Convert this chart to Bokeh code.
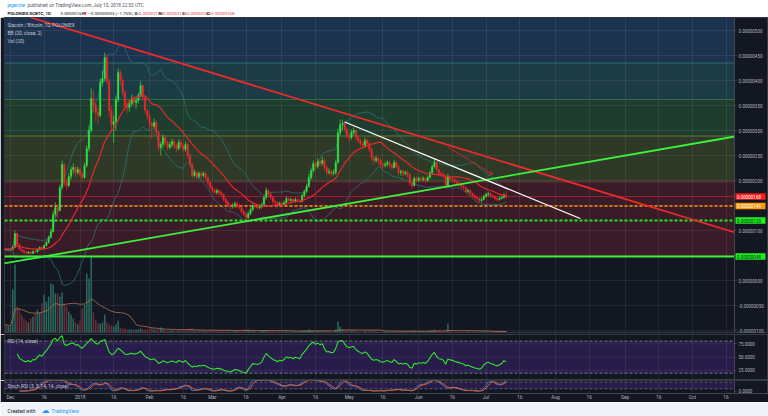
import numpy as np
import pandas as pd
from bokeh.plotting import figure
from bokeh.layouts import column
from bokeh.models import (Range1d, LinearAxis, FixedTicker, PrintfTickFormatter,
                          CustomJSTickFormatter, BoxAnnotation, Label, Arrow,
                          OpenHead, ColumnDataSource, Grid)
from bokeh.embed import file_html
from bokeh.resources import INLINE
from bokeh.core.properties import value

# ---------------- data (prices in satoshi, 1e-8 BTC) ----------------
start_date = "2017-11-28"
first_open = 64
close = [63, 61, 62,
         62, 66, 94, 72, 63, 60, 56, 55, 57, 54, 58, 57, 62, 66, 64, 70, 76, 86, 98, 132, 146, 140, 186, 232, 196, 190, 208, 222, 226, 216, 222,
         212, 206, 230, 264, 300, 364, 350, 336, 330, 396, 404, 446, 398, 340, 312, 318, 362, 416, 400, 376, 350, 346, 354, 364, 356, 360, 370, 390, 366, 340, 330,
         314, 308, 316, 296, 266, 272, 286, 276, 266, 272, 278, 270, 264, 276, 270, 262, 272, 250, 232, 210, 216, 208, 214, 210, 214, 206, 196, 186,
         180, 176, 180, 176, 172, 162, 156, 150, 148, 150, 154, 150, 146, 138, 132, 126, 134, 142, 150, 148, 146, 148, 152, 166, 180, 172, 166, 158, 156, 150, 154,
         152, 156, 164, 160, 162, 158, 162, 160, 158, 170, 178, 188, 206, 220, 234, 228, 238, 234, 240, 226, 216, 218, 214, 216, 236, 296, 312, 314, 302, 290,
         286, 296, 300, 286, 280, 274, 270, 280, 274, 262, 246, 240, 244, 240, 232, 230, 232, 236, 230, 226, 236, 228, 216, 218, 214, 216, 212, 196, 190, 204, 200,
         204, 202, 204, 200, 206, 216, 228, 236, 222, 214, 212, 208, 190, 208, 204, 202, 198, 194, 192, 188, 186, 178, 180, 174, 170, 166, 164, 160, 162, 168,
         172, 174, 170, 168, 164, 162, 164, 166, 171, 168]
high = [66, 65, 64,
        64, 70, 100, 96, 74, 64, 61, 58, 59, 58, 60, 60, 64, 68, 68, 72, 80, 90, 104, 140, 156, 152, 192, 240, 234, 204, 214, 228, 234, 228, 228,
        226, 216, 236, 270, 310, 384, 380, 356, 346, 404, 420, 456, 452, 404, 350, 330, 370, 424, 422, 406, 380, 358, 362, 372, 370, 368, 376, 398, 392, 370, 344,
        334, 318, 324, 320, 300, 278, 292, 290, 280, 278, 284, 282, 274, 282, 282, 274, 278, 276, 254, 236, 222, 220, 218, 218, 218, 216, 208, 198,
        190, 184, 184, 182, 180, 174, 166, 160, 154, 154, 158, 158, 154, 150, 142, 136, 138, 146, 156, 154, 152, 152, 156, 170, 186, 182, 176, 168, 162, 158, 158,
        158, 160, 168, 166, 166, 164, 166, 164, 164, 174, 182, 194, 214, 226, 240, 238, 244, 242, 248, 244, 230, 224, 222, 222, 242, 304, 322, 322, 318, 306,
        294, 302, 306, 302, 290, 284, 278, 286, 284, 278, 266, 250, 250, 248, 244, 236, 238, 240, 240, 234, 242, 240, 232, 222, 222, 220, 220, 214, 200, 208, 208,
        208, 208, 208, 206, 210, 220, 232, 244, 238, 224, 218, 216, 210, 214, 210, 206, 204, 200, 198, 196, 192, 188, 184, 182, 176, 172, 168, 166, 166, 172,
        176, 178, 176, 172, 170, 166, 168, 170, 175, 179]
low = [61, 59, 60,
       60, 61, 65, 70, 61, 57, 54, 52, 53, 52, 53, 55, 56, 60, 62, 63, 68, 74, 84, 96, 126, 124, 138, 182, 188, 180, 186, 202, 214, 206, 212,
       208, 198, 204, 226, 258, 296, 336, 318, 312, 326, 388, 398, 392, 326, 296, 276, 300, 356, 390, 368, 340, 334, 338, 348, 348, 344, 354, 366, 360, 334, 322,
       300, 284, 302, 290, 258, 250, 266, 270, 260, 262, 266, 264, 258, 260, 264, 256, 258, 244, 226, 204, 206, 202, 204, 204, 206, 200, 190, 182,
       176, 172, 172, 170, 168, 158, 150, 146, 140, 144, 146, 146, 142, 134, 128, 121, 122, 130, 138, 144, 142, 142, 144, 150, 162, 166, 162, 154, 152, 146, 148,
       148, 150, 154, 156, 156, 154, 156, 156, 154, 156, 166, 174, 186, 202, 216, 222, 224, 228, 230, 220, 210, 212, 208, 210, 212, 234, 290, 300, 296, 284,
       278, 282, 290, 280, 274, 268, 264, 266, 268, 256, 240, 232, 236, 232, 226, 224, 226, 228, 226, 222, 224, 224, 210, 210, 208, 210, 206, 190, 184, 188, 196,
       198, 198, 198, 196, 198, 204, 212, 224, 218, 208, 208, 204, 184, 188, 198, 198, 194, 190, 188, 184, 182, 174, 174, 168, 166, 162, 160, 156, 156, 160,
       166, 168, 166, 164, 160, 158, 160, 162, 164, 163]
volume = [8, 7, 6,
          6, 43, 68, 26, 24, 18, 14, 12, 10, 14, 16, 19, 23, 20, 29, 38, 31, 36, 49, 48, 39, 39, 36, 40, 29, 26, 21, 18, 14, 10, 8,
          12, 24, 28, 59, 54, 76, 20, 12, 9, 9, 10, 18, 10, 8, 7, 6, 8, 12, 5, 4, 4, 3, 3, 3, 3, 3, 3, 4, 3, 3, 3,
          4, 5, 3, 3, 4, 5, 3, 2, 2, 2, 2, 2, 2, 2, 2, 2, 2, 3, 4, 4, 2, 2, 2, 2, 2, 2, 2, 3,
          2, 2, 1, 2, 2, 2, 2, 2, 2, 1, 2, 2, 2, 2, 3, 3, 3, 2, 2, 2, 1, 1, 2, 2, 2, 2, 2, 2, 1, 2, 1,
          1, 1, 2, 1, 1, 1, 1, 1, 1, 2, 2, 2, 3, 2, 2, 2, 2, 1, 2, 2, 2, 1, 1, 1, 3, 11, 6, 3, 2, 2,
          2, 2, 2, 2, 1, 1, 1, 2, 1, 2, 2, 2, 1, 1, 1, 1, 1, 1, 1, 1, 1, 1, 2, 1, 1, 1, 1, 2, 2, 2, 1,
          1, 1, 1, 1, 1, 2, 2, 3, 2, 2, 1, 1, 3, 9, 2, 1, 1, 1, 1, 1, 1, 1, 1, 1, 1, 1, 1, 1, 1, 1,
          1, 1, 1, 1, 1, 1, 1, 1, 1, 1]

price_ticks = [-100, -50, 0, 50, 100, 150, 200, 250, 300, 350, 400, 450, 500]
date_ticks = ["2017-12-01", "2017-12-16", "2018-01-01", "2018-01-16", "2018-02-01", "2018-02-16",
              "2018-03-01", "2018-03-16", "2018-04-01", "2018-04-16", "2018-05-01", "2018-05-16",
              "2018-06-01", "2018-06-16", "2018-07-01", "2018-07-16", "2018-08-01", "2018-08-16",
              "2018-09-01", "2018-09-16", "2018-10-01", "2018-10-16"]
view_start, view_end = "2017-11-28 08:00", "2018-10-19 18:40"
fib_levels = [48, 197, 289, 362, 435]
fib_fill = ["#3a1c28", "#2e3a27", "#1f3d2e", "#1c3c45", "#1c3350"]
fib_line = ["#3aa83a", "#6e2a33", "#6b7530", "#2e6e40", "#2a6e6e"]
green_solid_level = 48
green_dash_level = 120
orange_level = 149
last_price = 168
red_trend = (["2017-12-10", "2018-10-20"], [526, 96])
green_trend = (["2017-11-28", "2018-10-20"], [34, 288])
white_trend = (["2018-04-29", "2018-08-12"], [317, 124])
red_arrow = (["2018-06-14", "2018-07-04"], [267, 212])
rsi_ticks = [25, 50, 75]
rsi_band = [20, 80]
stoch_band = [20, 80]

SAT = 1e-8
BG = "#131722"
FONT = "Roboto"
AX_TXT = "#b2b5be"
PLOT_W = 730      # width of the chart area (px)
SCALE_W = 34      # width of the price-scale strip (px)

# ---------------- derived series ----------------
dates = pd.date_range(start_date, periods=len(close), freq="D")
c = np.array(close, float)
o = np.concatenate([[first_open], c[:-1]])
h = np.array(high, float)
l = np.array(low, float)
vol = np.array(volume, float)
up = c >= o
CUP, CDN = "#2ee640", "#f0282d"
s = pd.Series(c)
sma = s.rolling(20, min_periods=1).mean()
sd = s.rolling(20, min_periods=1).std(ddof=0)
bb_up = sma + 2 * sd
bb_dn = sma - 2 * sd
dif = s.diff()
ag = dif.clip(lower=0).ewm(alpha=1 / 14, adjust=True, min_periods=6).mean()
al = (-dif.clip(upper=0)).ewm(alpha=1 / 14, adjust=True, min_periods=6).mean()
rsi = 100 - 100 / (1 + ag / al)
rmin = rsi.rolling(14, min_periods=1).min()
rmax = rsi.rolling(14, min_periods=1).max()
stoch = 100 * (rsi - rmin) / (rmax - rmin)
k = stoch.rolling(3, min_periods=1).mean()
dline = k.rolling(3, min_periods=1).mean()
vol_ma = pd.Series(vol).rolling(20, min_periods=1).mean()

src = ColumnDataSource(dict(
    date=dates, o=o * SAT, c=c * SAT, h=h * SAT, l=l * SAT,
    top=np.maximum(o, c) * SAT, bot=np.minimum(o, c) * SAT,
    col=[CUP if u else CDN for u in up],
    vol=vol, vcol=["#2b6a5d" if u else "#6a2c39" for u in up],
    sma=sma * SAT, bbu=bb_up * SAT, bbd=bb_dn * SAT, volma=vol_ma,
    rsi=rsi, k=k, d=dline))


def ms(t):
    return pd.Timestamp(t).value / 1e6


tick_ms = [ms(t) for t in date_ticks]
vs, ve = ms(view_start), ms(view_end)
ms_per_px = (ve - vs) / PLOT_W
full_end = ve + SCALE_W * ms_per_px          # the frame also covers the price-scale strip
xr = Range1d(vs, full_end)
DAY = 86400000.0


def panel(frame_h, yr, below=False, bottom=0):
    p = figure(frame_width=PLOT_W + SCALE_W, frame_height=frame_h, x_range=xr, y_range=yr,
               x_axis_type="datetime", x_axis_location="below" if below else None,
               y_axis_location=None, output_backend="svg", toolbar_location=None,
               min_border_left=4, min_border_right=0, min_border_top=0,
               min_border_bottom=bottom, background_fill_color=BG,
               border_fill_color=BG, outline_line_color="#363a45")
    p.grid.visible = False
    p.add_layout(Grid(dimension=0, ticker=FixedTicker(ticks=tick_ms),
                      grid_line_color="#ffffff", grid_line_alpha=0.07))
    return p


def hgrid(p, ys):
    p.segment(x0=vs, x1=ve, y0=ys, y1=ys, line_color="#ffffff", line_alpha=0.07,
              line_width=1, level="underlay")


def hline(p, y, color, width, dash="solid"):
    p.segment(x0=[vs], x1=[ve], y0=[y], y1=[y], line_color=color, line_width=width,
              line_dash=dash)


def style_axis(ax, fs="4.5px"):
    ax.major_label_text_font_size = fs
    ax.major_label_text_color = AX_TXT
    ax.major_label_text_font = FONT
    ax.axis_line_color = "#434651"
    ax.major_tick_line_color = "#434651"
    ax.major_tick_out = 2
    ax.major_tick_in = 0
    ax.minor_tick_out = 0
    ax.minor_tick_in = 0
    ax.major_label_standoff = 2


def scale_axis(p, ticks, fmt):
    ax = LinearAxis(ticker=FixedTicker(ticks=ticks), formatter=PrintfTickFormatter(format=fmt),
                    fixed_location=ve)
    style_axis(ax)
    p.add_layout(ax, "right")
    return ax


# ---------------- header ----------------
head = figure(frame_width=768, frame_height=17, x_range=Range1d(0, 768), y_range=Range1d(17, 0),
              x_axis_location=None, y_axis_location=None, output_backend="svg",
              toolbar_location=None, min_border=0, background_fill_color="#ffffff",
              border_fill_color="#ffffff", outline_line_color=None)
head.grid.visible = False


def htxt(x, y, t, col="#131722", fs="4.8px", bold=False, font=FONT):
    head.text(x=[x], y=[y], text=[t], text_color=col, text_font_size=fs,
              text_baseline="middle", text_font=value(font),
              text_font_style="bold" if bold else "normal")


htxt(3, 5, "jegerche", col="#2196f3", fs="4.6px")
htxt(23, 5, "published on TradingView.com, July 10, 2018 22:53 UTC", col="#50535e", fs="4.7px")
htxt(3, 13, "POLONIEX:SCBTC, 1D", bold=True, fs="4.4px")
htxt(56, 13, "0.00000168", fs="4.4px")
htxt(79, 13, "▼", col="#ff1a1a", fs="4.4px", font="DejaVu Sans")
htxt(84, 13, "\u22120.00000003 (\u22121.75%)", fs="4.4px")
for lx, lab, val in [(130, "O:", "0.00000170"), (154, "H:", "0.00000179"),
                     (178, "L:", "0.00000163"), (202, "C:", "0.00000168")]:
    htxt(lx, 13, lab, bold=True, fs="4.4px")
    htxt(lx + 4.5, 13, val, col="#f23645", fs="4.4px")

# ---------------- main price panel ----------------
main = panel(315, Range1d(-104 * SAT, 526 * SAT), bottom=2)
main.extra_y_ranges = {"vol": Range1d(0, 315)}
tops = fib_levels[1:] + [None]
for b, t, fc in zip(fib_levels, tops, fib_fill):
    main.add_layout(BoxAnnotation(bottom=b * SAT, top=None if t is None else t * SAT,
                                  right=ve, fill_color=fc, fill_alpha=1, line_alpha=0,
                                  level="image"))
hgrid(main, [t * SAT for t in price_ticks])
for lv, lc in zip(fib_levels, fib_line):
    hline(main, lv * SAT, lc, 1)

# volume
main.vbar(x="date", top="vol", bottom=0, width=0.68 * DAY, fill_color="vcol",
          line_color=None, source=src, y_range_name="vol")
main.line(x="date", y="volma", line_color="#b07650", line_width=0.8, source=src,
          y_range_name="vol")

# Bollinger bands
main.line(x="date", y="bbu", line_color="#2a7a7e", line_alpha=0.8, line_width=0.9, source=src)
main.line(x="date", y="bbd", line_color="#2a7a7e", line_alpha=0.8, line_width=0.9, source=src)

# horizontal levels
hline(main, last_price * SAT, "#a8262f", 0.8)
hline(main, orange_level * SAT, "#ff9800", 1.3, "3 2")
hline(main, green_dash_level * SAT, "#22e622", 1.8, "3 2")
hline(main, green_solid_level * SAT, "#3cf03c", 1.8)

# candles
main.segment(x0="date", y0="h", x1="date", y1="l", line_color="col", line_width=0.7, source=src)
main.vbar(x="date", top="top", bottom="bot", width=0.7 * DAY, fill_color="col",
          line_color="col", line_width=0.3, source=src)

# basis
main.line(x="date", y="sma", line_color="#e8262b", line_width=1.2, source=src)

# trend lines
for (dd, pp), col, lw in [(red_trend, "#f02a2a", 1.8), (green_trend, "#3cf03c", 1.8),
                          (white_trend, "#ffffff", 1.3)]:
    main.line(x=[ms(t) for t in dd], y=[q * SAT for q in pp], line_color=col, line_width=lw)
main.add_layout(Arrow(x_start=ms(red_arrow[0][0]), y_start=red_arrow[1][0] * SAT,
                      x_end=ms(red_arrow[0][1]), y_end=red_arrow[1][1] * SAT,
                      line_color="#e8262b", line_width=0.8,
                      end=OpenHead(size=4, line_color="#e8262b", line_width=0.8)))

# legend texts
for yy, t in [(307, "Siacoin / Bitcoin, 1D, POLONIEX"), (299, "BB (20, close, 2)"), (291, "Vol (20)")]:
    main.add_layout(Label(x=3, y=yy, x_units="screen", y_units="screen", text=t,
                          text_font_size="4.8px", text_color="#c8cbd2", text_font=FONT,
                          text_baseline="middle"))

# price scale
scale_axis(main, [t * SAT for t in price_ticks], "%.8f")

# price tags on the scale (drawn above the scale labels)
tag_levels = [last_price, orange_level, green_dash_level, green_solid_level]
tag_bg = ["#ff1a1a", "#ff9800", "#1ef01e", "#1ef01e"]
tag_fg = ["#ffffff", "#ffffff", "#131722", "#131722"]
tag_src = ColumnDataSource(dict(
    xc=[ve + 16 * ms_per_px] * 4, xt=[ve + 2.5 * ms_per_px] * 4,
    y=[v * SAT for v in tag_levels], txt=["%.8f" % (v * SAT) for v in tag_levels],
    bg=tag_bg, fg=tag_fg))
main.rect(x="xc", y="y", width=30, height=6.5, width_units="screen", height_units="screen",
          fill_color="bg", line_color=None, source=tag_src, level="overlay")
main.text(x="xt", y="y", text="txt", text_color="fg", text_font_size="4.5px",
          text_baseline="middle", text_font=value(FONT), source=tag_src, level="overlay")

# ---------------- RSI panel ----------------
rp = panel(45, Range1d(8.1, 92.4), bottom=1)
rp.add_layout(BoxAnnotation(bottom=rsi_band[0], top=rsi_band[1], right=ve, fill_color="#281c4a",
                            fill_alpha=1, line_alpha=0, level="image"))
hgrid(rp, rsi_ticks)
for lv in rsi_band:
    hline(rp, lv, "#8a8d96", 0.8, "3 2")
rp.line(x="date", y="rsi", line_color="#2ee62e", line_width=1.1, source=src)
scale_axis(rp, rsi_ticks, "%.4f")
rp.add_layout(Label(x=3, y=38, x_units="screen", y_units="screen", text="RSI (14, close)",
                    text_font_size="4.8px", text_color="#c8cbd2", text_font=FONT,
                    text_baseline="middle"))

# ---------------- Stoch RSI panel ----------------
sp = panel(13, Range1d(-22.7, 95.5), below=True)
sp.add_layout(BoxAnnotation(bottom=stoch_band[0], top=stoch_band[1], right=ve,
                            fill_color="#281c4a", fill_alpha=1, line_alpha=0, level="image"))
for lv in stoch_band:
    hline(sp, lv, "#8a8d96", 0.6, "3 2")
sp.line(x="date", y="k", line_color="#3c78d8", line_width=1, source=src)
sp.line(x="date", y="d", line_color="#e8601c", line_width=1, source=src)
scale_axis(sp, [0], "%.4f")
sp.add_layout(Label(x=3, y=7, x_units="screen", y_units="screen",
                    text="Stoch RSI (3, 3, 14, 14, close)", text_font_size="4.8px",
                    text_color="#c8cbd2", text_font=FONT, text_baseline="middle"))
xa = sp.xaxis[0]
xa.ticker = FixedTicker(ticks=tick_ms)
xa.formatter = CustomJSTickFormatter(code="""
const d = new Date(tick);
const day = d.getUTCDate();
const m = d.getUTCMonth();
const names = ["Jan","Feb","Mar","Apr","May","Jun","Jul","Aug","Sep","Oct","Nov","Dec"];
if (day === 1) { return (m === 0) ? String(d.getUTCFullYear()) : names[m]; }
return String(day);
""")
style_axis(xa, fs="4.8px")
xa.major_tick_out = 0
xa.major_label_standoff = 1

# ---------------- footer ----------------
foot = figure(frame_width=768, frame_height=15, x_range=Range1d(0, 768), y_range=Range1d(15, 0),
              x_axis_location=None, y_axis_location=None, output_backend="svg",
              toolbar_location=None, min_border=0, background_fill_color="#f0f3fa",
              border_fill_color="#f0f3fa", outline_line_color=None)
foot.grid.visible = False
foot.text(x=[3], y=[8], text=["Created with"], text_color="#131722", text_font_size="5px",
          text_baseline="middle", text_font=value(FONT))
foot.text(x=[37], y=[8], text=["\u2601"], text_color="#2196f3", text_font_size="8px",
          text_baseline="middle", text_font=value("DejaVu Sans"))
foot.text(x=[47], y=[8], text=["TradingView"], text_color="#2196f3", text_font_size="5px",
          text_baseline="middle", text_font=value(FONT))

layout = column(head, main, rp, sp, foot, spacing=0)
open("out.html", "w").write(file_html(layout, INLINE))
